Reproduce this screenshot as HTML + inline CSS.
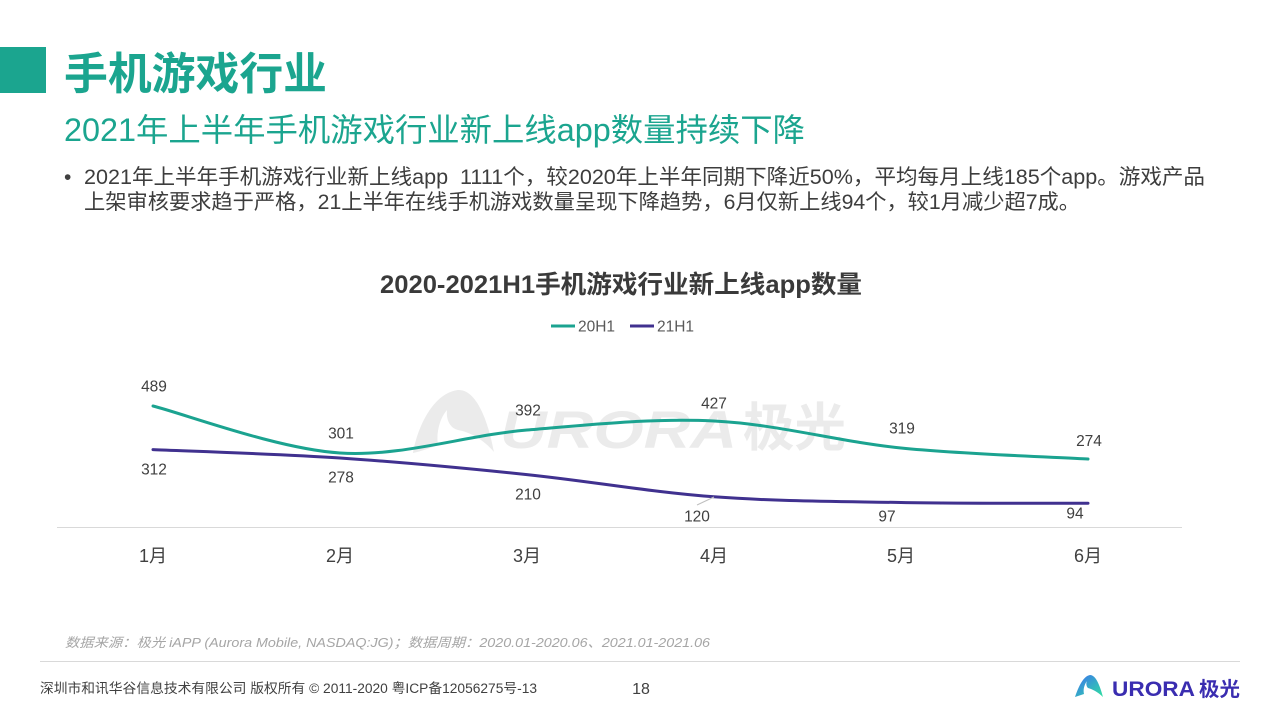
<!DOCTYPE html>
<html>
<head>
<meta charset="utf-8">
<style>
html,body{margin:0;padding:0;background:#fff;}
body{width:1280px;height:720px;overflow:hidden;}
svg{display:block;}
text{font-family:"Liberation Sans","Noto Sans CJK SC",sans-serif;}
</style>
</head>
<body>
<svg width="1280" height="720" viewBox="0 0 1280 720" xmlns="http://www.w3.org/2000/svg">
  <defs>
    <linearGradient id="lg" x1="0" y1="0" x2="1" y2="1">
      <stop offset="0" stop-color="#3d6ff2"/>
      <stop offset="1" stop-color="#2fe0a0"/>
    </linearGradient>
  </defs>

  <!-- header -->
  <rect x="0" y="47" width="46" height="46" fill="#1ba58f"/>
  <text x="64" y="89" font-size="44" font-weight="bold" fill="#1ba58f" textLength="263" lengthAdjust="spacingAndGlyphs">手机游戏行业</text>
  <text x="64" y="141" font-size="32" fill="#1ba58f" textLength="741" lengthAdjust="spacingAndGlyphs">2021年上半年手机游戏行业新上线app数量持续下降</text>

  <text x="64" y="184" font-size="21" fill="#404040">•</text>
  <text x="84" y="184" font-size="21" fill="#3d3d3d" textLength="1121" lengthAdjust="spacingAndGlyphs">2021年上半年手机游戏行业新上线app&#160; 1111个，较2020年上半年同期下降近50%，平均每月上线185个app。游戏产品</text>
  <text x="84" y="209" font-size="21" fill="#3d3d3d" textLength="996" lengthAdjust="spacingAndGlyphs">上架审核要求趋于严格，21上半年在线手机游戏数量呈现下降趋势，6月仅新上线94个，较1月减少超7成。</text>

  <!-- chart title -->
  <text x="380" y="293" font-size="25" font-weight="bold" fill="#3a3a3a" textLength="482" lengthAdjust="spacingAndGlyphs">2020-2021H1手机游戏行业新上线app数量</text>

  <!-- legend -->
  <line x1="551" y1="326" x2="575" y2="326" stroke="#1ba390" stroke-width="3"/>
  <text x="578" y="331.5" font-size="15.5" fill="#595959">20H1</text>
  <line x1="630" y1="326" x2="654" y2="326" stroke="#40318f" stroke-width="3"/>
  <text x="657" y="331.5" font-size="15.5" fill="#595959">21H1</text>

  <!-- watermark -->
  <g fill="#ebebeb">
    <path d="M413,453 C418,425 434,393 458,390 C476,389 488,420 494,452 C484,440 470,432 458,430 C450,428 446,420 447,410 C440,418 436,432 438,445 C430,448 422,451 413,453 Z"/>
    <text x="500" y="448" font-size="53" font-weight="bold" font-style="italic" textLength="237" lengthAdjust="spacingAndGlyphs">URORA</text>
    <text x="743" y="446" font-size="52" font-weight="bold" textLength="103" lengthAdjust="spacingAndGlyphs">极光</text>
  </g>

  <!-- axis -->
  <line x1="57" y1="527.5" x2="1182" y2="527.5" stroke="#d9d9d9" stroke-width="1"/>

  <!-- series -->
  <path d="M153,406 C184.2,413.8 277.7,449 340,453 C402.3,457 464.7,435.3 527,430 C589.3,424.7 651.7,418 714,421 C776.3,424 838.7,441.7 901,448 C963.3,454.3 1056.8,457.2 1088,459" fill="none" stroke="#1ba390" stroke-width="3" stroke-linecap="round"/>
  <path d="M153,449.6 C184.2,451 277.7,453.8 340,458 C402.3,462.2 464.7,468.1 527,474.6 C589.3,481.1 651.7,492.2 714,496.8 C776.3,501.4 838.7,501.4 901,502.5 C963.3,503.6 1056.8,503.2 1088,503.3" fill="none" stroke="#40318f" stroke-width="3" stroke-linecap="round"/>

  <!-- leader line -->
  <line x1="697" y1="505" x2="714" y2="497" stroke="#bfbfbf" stroke-width="1"/>

  <!-- data labels -->
  <g font-size="15.5" fill="#404040" text-anchor="middle">
    <text x="154" y="391.5">489</text>
    <text x="341" y="438.5">301</text>
    <text x="528" y="415.5">392</text>
    <text x="714" y="408.5">427</text>
    <text x="902" y="433.5">319</text>
    <text x="1089" y="446">274</text>
    <text x="154" y="474.5">312</text>
    <text x="341" y="482.5">278</text>
    <text x="528" y="499.5">210</text>
    <text x="697" y="521.5">120</text>
    <text x="887" y="521.5">97</text>
    <text x="1075" y="518.5">94</text>
  </g>

  <!-- month labels -->
  <g font-size="18" fill="#404040" text-anchor="middle">
    <text x="153" y="562">1月</text>
    <text x="340" y="562">2月</text>
    <text x="527" y="562">3月</text>
    <text x="714" y="562">4月</text>
    <text x="901" y="562">5月</text>
    <text x="1088" y="562">6月</text>
  </g>

  <!-- source -->
  <text x="65" y="647" font-size="13" font-style="italic" fill="#a6a6a6" textLength="645" lengthAdjust="spacingAndGlyphs">数据来源：极光 iAPP (Aurora Mobile, NASDAQ:JG)；数据周期：2020.01-2020.06、2021.01-2021.06</text>

  <line x1="40" y1="661.5" x2="1240" y2="661.5" stroke="#d9d9d9" stroke-width="1"/>

  <!-- footer -->
  <text x="40" y="693" font-size="13.5" fill="#404040" textLength="497" lengthAdjust="spacingAndGlyphs">深圳市和讯华谷信息技术有限公司  版权所有 © 2011-2020 粤ICP备12056275号-13</text>
  <text x="641" y="694" font-size="16" fill="#404040" text-anchor="middle">18</text>

  <!-- footer logo -->
  <path d="M1075,697 C1078,688 1083,676 1090,675 C1096,675 1100,686 1103,697 C1098,692 1092,689 1088,688 C1086,686 1086,683 1087,681 C1084,685 1083,690 1084,694 C1081,695 1078,696 1075,697 Z" fill="url(#lg)"/>
  <text x="1112" y="696" font-size="21" font-weight="bold" fill="#3a2db0" textLength="83" lengthAdjust="spacingAndGlyphs">URORA</text>
  <text x="1199" y="696" font-size="20" font-weight="bold" fill="#3a2db0" textLength="41" lengthAdjust="spacingAndGlyphs">极光</text>
</svg>
</body>
</html>
